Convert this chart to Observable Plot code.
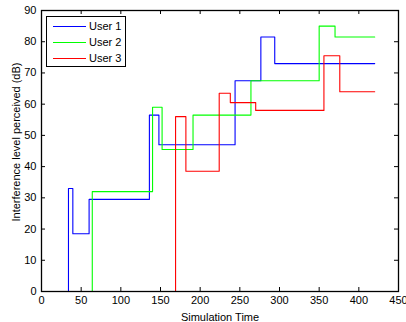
<!DOCTYPE html>
<html>
<head>
<meta charset="utf-8">
<script src="https://cdn.jsdelivr.net/npm/d3@7"></script>
<script src="https://cdn.jsdelivr.net/npm/@observablehq/plot@0.6"></script>
<style>
  body { margin: 0; background: #fff; }
  #wrap { position: relative; width: 406px; height: 322px; font-family: "Liberation Sans", Arial, sans-serif; }
  #legend { position: absolute; left: 46px; top: 16px; width: 78px; height: 49px; border: 1px solid #000; background: #fff; font-size: 11px; }
  .row { position: absolute; left: 6px; height: 12px; display: flex; align-items: center; }
  .sw { width: 33px; height: 0; border-top: 1.5px solid; margin-right: 3px; }
</style>
</head>
<body>
<div id="wrap"></div>
<script>
const seriesNames = ["User 1", "User 2", "User 3"];
const seriesColors = ["#0000ff", "#00ff00", "#ff0000"];
const user1Time = [0, 34, 39.5, 60, 136, 148, 244, 276.5, 294, 420];
const user1Value = [0, 33, 18.5, 29.5, 56.5, 47, 67.5, 81.5, 73, 73];
const user2Time = [0, 64, 140, 152, 191, 264, 350, 370, 420];
const user2Value = [0, 32, 59, 45.5, 56.5, 67.5, 85, 81.5, 81.5];
const user3Time = [0, 169, 182, 224, 238, 270, 356, 376, 420];
const user3Value = [0, 56, 38.5, 63.5, 60.5, 58, 75.5, 64, 64];
const xTicks = [0, 50, 100, 150, 200, 250, 300, 350, 400, 450];
const yTicks = [0, 10, 20, 30, 40, 50, 60, 70, 80, 90];
const xLabel = "Simulation Time";
const yLabel = "Interference level perceived (dB)";

const times = [user1Time, user2Time, user3Time];
const values = [user1Value, user2Value, user3Value];
const data = [];
seriesNames.forEach((name, s) => {
  times[s].forEach((t, i) => data.push({series: name, t, v: values[s][i]}));
});

const chart = Plot.plot({
  width: 406,
  height: 322,
  marginLeft: 41,
  marginRight: 8,
  marginTop: 10,
  marginBottom: 31,
  style: {fontFamily: "Liberation Sans, Arial, sans-serif", fontSize: "11px", color: "#000", background: "#fff"},
  x: {domain: [0, 450]},
  y: {domain: [0, 90]},
  color: {domain: seriesNames, range: seriesColors},
  marks: [
    Plot.axisX({ticks: xTicks, tickSize: 0, tickPadding: 5, label: xLabel, labelAnchor: "center", labelArrow: "none", labelOffset: 29}),
    Plot.axisY({ticks: yTicks, tickSize: 0, tickPadding: 5, label: null}),
    Plot.text([yLabel], {frameAnchor: "left", text: d => d, rotate: -90, dx: -25, dy: -9, textAnchor: "middle", lineAnchor: "middle", fontSize: 11, fill: "#000"}),
    Plot.line(data, {x: "t", y: "v", z: "series", stroke: "series", strokeWidth: 1.1, curve: "step-after"}),
    Plot.ruleX(xTicks, {x: d => d, y1: 0, y2: 0, insetTop: -4, stroke: "#000"}),
    Plot.ruleX(xTicks, {x: d => d, y1: 90, y2: 90, insetBottom: -4, stroke: "#000"}),
    Plot.ruleY(yTicks, {y: d => d, x1: 0, x2: 0, insetRight: -4, stroke: "#000"}),
    Plot.ruleY(yTicks, {y: d => d, x1: 450, x2: 450, insetLeft: -4, stroke: "#000"}),
    Plot.frame({stroke: "#000", strokeWidth: 1.3})
  ]
});
const wrap = document.getElementById("wrap");
wrap.appendChild(chart);

const legend = document.createElement("div");
legend.id = "legend";
seriesNames.forEach((name, i) => {
  const row = document.createElement("div");
  row.className = "row";
  row.style.top = (3 + i * 16) + "px";
  const sw = document.createElement("div");
  sw.className = "sw";
  sw.style.borderTopColor = seriesColors[i];
  const label = document.createElement("span");
  label.textContent = name;
  row.appendChild(sw);
  row.appendChild(label);
  legend.appendChild(row);
});
wrap.appendChild(legend);
</script>
</body>
</html>
